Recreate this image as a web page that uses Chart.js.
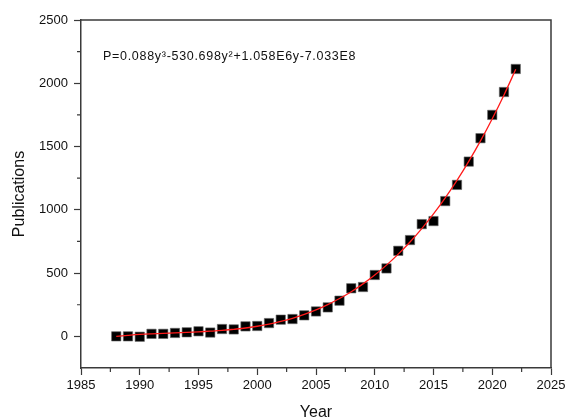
<!DOCTYPE html>
<html>
<head>
<meta charset="utf-8">
<script src="https://cdn.jsdelivr.net/npm/chart.js@4/dist/chart.umd.min.js"></script>
<style>
  html, body { margin: 0; padding: 0; background: #fff; }
  #wrap { width: 569px; height: 420px; }
</style>
</head>
<body>
<div id="wrap"><canvas id="c" width="569" height="420"></canvas></div>
<script>
// Annual publication counts
const years = [1988, 1989, 1990, 1991, 1992, 1993, 1994, 1995, 1996, 1997, 1998, 1999,
  2000, 2001, 2002, 2003, 2004, 2005, 2006, 2007, 2008, 2009, 2010, 2011,
  2012, 2013, 2014, 2015, 2016, 2017, 2018, 2019, 2020, 2021, 2022];
const publications = [0, 0, -3, 20, 20, 27, 32, 40, 30, 58, 55, 79,
  82, 105, 132, 137, 166, 197, 229, 282, 380, 390, 485, 537,
  676, 761, 887, 911, 1069, 1197, 1381, 1566, 1750, 1931, 2113];
// Cubic trend line values
const fitted = [0, 8, 15, 20, 24, 28, 32, 36, 41, 47, 56, 66,
  80, 97, 118, 143, 174, 209, 251, 299, 353, 415, 485, 563,
  650, 746, 852, 968, 1095, 1233, 1383, 1545, 1720, 1908, 2110];

const xTicks = [1985, 1990, 1995, 2000, 2005, 2010, 2015, 2020, 2025];
const yTicks = [0, 500, 1000, 1500, 2000, 2500];
const xMinorTicks = [1987.5, 1992.5, 1997.5, 2002.5, 2007.5, 2012.5, 2017.5, 2022.5];
const yMinorTicks = [250, 750, 1250, 1750, 2250];
const equation = 'P=0.088y\u00b3-530.698y\u00b2+1.058E6y-7.033E8';

const AXIS = '#3a3a3a';
const FONT = '"Liberation Sans", Arial, sans-serif';

const pts = (vals) => years.map((y, i) => ({ x: y, y: vals[i] }));

const framePlugin = {
  id: 'frame',
  afterDraw(chart) {
    const { ctx, chartArea: a, scales } = chart;
    ctx.save();
    ctx.strokeStyle = AXIS;
    ctx.lineWidth = 1.5;
    ctx.beginPath();
    ctx.moveTo(a.left, a.top);
    ctx.lineTo(a.right, a.top);
    ctx.lineTo(a.right, a.bottom);
    ctx.stroke();
    ctx.lineWidth = 1.2;
    ctx.beginPath();
    xMinorTicks.forEach(v => {
      const px = scales.x.getPixelForValue(v);
      ctx.moveTo(px, a.bottom);
      ctx.lineTo(px, a.bottom + 4);
    });
    yMinorTicks.forEach(v => {
      const py = scales.y.getPixelForValue(v);
      ctx.moveTo(a.left - 4, py);
      ctx.lineTo(a.left, py);
    });
    ctx.stroke();
    // equation of the trend line
    ctx.fillStyle = '#111';
    ctx.font = '12.5px ' + FONT;
    if ('letterSpacing' in ctx) ctx.letterSpacing = '0.7px';
    ctx.textBaseline = 'middle';
    ctx.textAlign = 'left';
    ctx.fillText(equation, a.left + 22, 57);
    ctx.restore();
  }
};

new Chart(document.getElementById('c'), {
  type: 'scatter',
  data: {
    datasets: [
      {
        type: 'line',
        label: 'Fit',
        data: pts(fitted),
        borderColor: '#ff1a1a',
        borderWidth: 1.3,
        pointRadius: 0,
        tension: 0.35,
        fill: false,
        order: 0
      },
      {
        label: 'Publications',
        data: pts(publications),
        pointStyle: 'rect',
        pointRadius: 6.6,
        backgroundColor: '#000',
        borderColor: '#666',
        borderWidth: 0.6,
        order: 1
      }
    ]
  },
  options: {
    responsive: false,
    animation: false,
    layout: { padding: { top: 20, right: 18, left: 0, bottom: 0 } },
    plugins: { legend: { display: false }, tooltip: { enabled: false } },
    scales: {
      x: {
        type: 'linear',
        min: 1985,
        max: 2025,
        afterBuildTicks: s => { s.ticks = xTicks.map(v => ({ value: v })); },
        afterFit: s => { s.height = 52; s.paddingLeft = 0; s.paddingRight = 0; },
        ticks: {
          font: { family: FONT, size: 13 },
          color: '#111',
          padding: 3,
          maxRotation: 0,
          callback: v => String(v)
        },
        grid: {
          drawOnChartArea: false,
          drawTicks: true,
          tickLength: 7,
          tickWidth: 1.2,
          tickColor: AXIS
        },
        border: { display: true, color: AXIS, width: 1.5 },
        title: {
          display: true,
          text: 'Year',
          font: { family: FONT, size: 16 },
          color: '#111',
          padding: { top: 0, bottom: -2 }
        }
      },
      y: {
        type: 'linear',
        min: -250,
        max: 2500,
        afterBuildTicks: s => { s.ticks = yTicks.map(v => ({ value: v })); },
        afterFit: s => { s.width = 81; s.paddingTop = 0; s.paddingBottom = 0; },
        ticks: {
          font: { family: FONT, size: 13 },
          color: '#111',
          padding: 6,
          callback: v => String(v)
        },
        grid: {
          drawOnChartArea: false,
          drawTicks: true,
          tickLength: 7,
          tickWidth: 1.2,
          tickColor: AXIS
        },
        border: { display: true, color: AXIS, width: 1.5 },
        title: {
          display: true,
          text: 'Publications',
          font: { family: FONT, size: 16 },
          color: '#111',
          padding: { top: 10, bottom: 0 }
        }
      }
    }
  },
  plugins: [framePlugin]
});
</script>
</body>
</html>
